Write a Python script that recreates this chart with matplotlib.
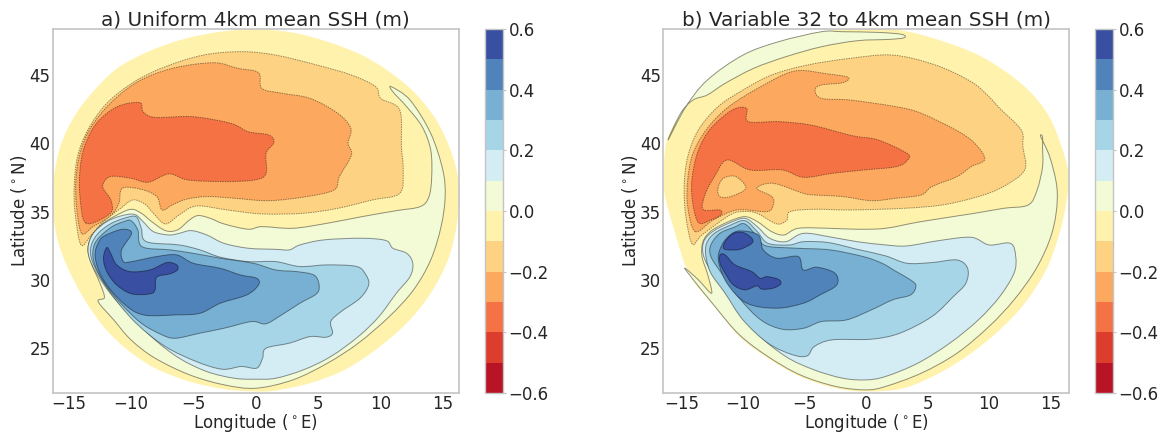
import numpy as np
import matplotlib
matplotlib.use("Agg")
from matplotlib import pyplot as plt
from matplotlib.colors import BoundaryNorm, ListedColormap
from matplotlib.cm import ScalarMappable
from matplotlib.path import Path
from matplotlib.patches import PathPatch

levels = np.arange(-0.6, 0.61, 0.1)
cbar_ticks = [-0.6, -0.4, -0.2, 0.0, 0.2, 0.4, 0.6]
lon_ticks = [-15, -10, -5, 0, 5, 10, 15]
lat_ticks = [25, 30, 35, 40, 45]

# ---- panel a, contour outlines (lon, lat)
a_domain = [(0,48.34),(2.97,48.1),(5.74,47.44),(8.5,46.46),(10.71,45.24),(12.65,43.78),(14.31,41.95),(15.41,40.0),(16.1,38.05),(16.33,36.34),(16.1,33.9),(15.41,31.46),(14.03,29.02),(12.1,26.83),(9.6,24.88),(7.12,23.41),(4.35,22.44),(1.59,21.9),(0,21.83),(-2.56,22.0),(-5.32,22.56),(-8.09,23.54),(-10.3,24.88),(-12.23,26.59),(-13.89,28.78),(-15.14,30.98),(-15.97,33.17),(-16.3,35.37),(-16.24,37.32),(-15.69,39.76),(-14.58,41.95),(-13.06,43.78),(-11.13,45.49),(-8.64,46.71),(-5.87,47.61),(-2.83,48.17)]
a_p00 = [(10.85,44.15),(12.37,43.17),(14.03,40.73),(15.0,38.05),(15.19,36.1),(14.86,33.9),(14.03,31.46),(12.65,29.27),(10.71,27.32),(8.22,25.37),(5.74,23.9),(2.97,22.68),(0,22.07),(-2.56,22.32),(-5.32,23.05),(-8.09,24.27),(-10.02,25.61),(-11.4,27.07),(-12.65,28.41),(-12.15,28.71),(-12.51,29.76),(-13.2,31.22),(-13.48,32.32),(-13.06,33.41),(-12.23,34.15),(-11.13,34.76),(-10.02,35.17),(-9.19,34.88),(-8.36,34.27),(-7.26,33.61),(-6.29,33.66),(-5.32,34.39),(-4.63,34.71),(-3.66,34.51),(-2.56,34.1),(-0.62,33.71),(0.48,33.9),(2.97,33.78),(5.74,34.15),(8.5,34.63),(11.27,35.07),(13.2,35.37),(13.89,36.1),(14.11,37.56),(14.03,39.51),(13.34,41.22),(12.1,42.68),(10.99,43.78)]
a_p01 = [(-5.18,33.61),(-3.94,33.29),(-2.56,32.68),(-0.62,32.32),(1.59,32.24),(2.7,32.2),(3.53,32.56),(5.46,32.93),(8.5,33.05),(10.44,32.88),(10.99,32.32),(12.1,31.95),(12.59,31.22),(12.37,30.24),(11.27,29.02),(9.88,27.32),(8.22,25.85),(6.01,24.39),(3.8,23.41),(1.59,22.8),(0,22.73),(-1.73,22.8),(-3.94,23.29),(-6.15,24.27),(-8.09,25.61),(-10.02,27.32),(-11.68,29.02),(-12.79,30.49),(-13.4,31.71),(-13.4,32.68),(-12.93,33.54),(-11.96,34.27),(-10.85,34.68),(-9.75,34.8),(-9.05,34.27),(-8.23,33.54),(-6.98,33.29),(-6.15,33.41)]
a_p02 = [(-9.61,34.63),(-9.19,33.78),(-8.78,32.8),(-6.15,32.56),(-4.49,32.2),(-2.83,31.66),(-0.62,31.34),(1.59,31.34),(3.53,30.98),(5.74,31.1),(8.09,30.98),(8.83,30.37),(9.05,29.63),(8.36,28.66),(6.84,27.68),(6.01,26.95),(6.15,26.1),(5.6,25.8),(4.35,25.85),(2.7,25.37),(0.82,25.0),(0.54,24.27),(0.07,23.54),(-1.17,23.66),(-2.7,23.46),(-4.77,24.02),(-7.26,25.12),(-9.47,26.71),(-11.13,28.41),(-12.51,30.24),(-13.2,31.59),(-13.2,32.56),(-12.65,33.41),(-11.68,34.1),(-10.58,34.51)]
a_p03 = [(-10.02,34.34),(-9.47,33.66),(-9.14,32.44),(-6.9,32.2),(-5.02,31.95),(-2.86,31.59),(-0.21,31.22),(1.59,30.73),(3.25,30.61),(4.63,30.37),(5.05,29.76),(4.91,29.02),(3.53,28.29),(1.87,27.32),(0.76,26.78),(-0.35,26.95),(-2.56,26.46),(-4.49,26.1),(-6.43,25.73),(-7.53,25.98),(-9.19,26.83),(-10.85,28.29),(-12.23,29.88),(-13.01,31.34),(-13.01,32.44),(-12.51,33.17),(-11.54,33.9),(-10.58,34.27)]
a_p04 = [(-10.63,33.71),(-9.97,33.41),(-10.77,32.2),(-10.63,31.34),(-9.97,31.34),(-7.95,31.71),(-6.35,31.83),(-5.02,31.22),(-2.86,30.85),(-1.26,30.37),(0.07,30.12),(0.21,29.63),(-0.73,28.9),(-2.86,28.29),(-4.47,27.56),(-6.35,27.44),(-9.03,27.44),(-10.63,28.29),(-12.23,30.0),(-12.9,31.71),(-12.51,32.93),(-11.71,33.41)]
a_p05 = [(-11.96,32.37),(-11.65,31.95),(-11.16,31.1),(-10.1,30.61),(-8.5,30.73),(-7.15,31.27),(-6.35,31.1),(-6.29,30.73),(-6.9,30.44),(-7.95,30.2),(-8.09,29.27),(-8.5,28.98),(-9.97,28.98),(-11.16,29.63),(-11.96,30.61),(-12.23,31.59)]
a_m01 = [(-14.03,32.56),(-14.5,34.88),(-14.58,36.83),(-14.31,39.02),(-13.48,40.98),(-11.96,42.93),(-9.75,44.51),(-7.26,45.61),(-4.22,46.46),(-1.17,46.71),(1.59,46.46),(4.91,45.73),(7.67,45.0),(9.61,44.15),(10.02,43.29),(11.54,42.44),(11.68,39.76),(11.82,38.05),(11.54,36.34),(9.33,35.85),(6.57,35.24),(3.8,34.88),(0.48,34.83),(-2.28,35.12),(-4.77,35.41),(-6.15,34.76),(-7.26,34.1),(-8.22,34.88),(-8.92,35.56),(-9.88,35.85),(-10.85,35.24),(-12.23,34.27),(-13.2,33.29)]
a_m02 = [(-13.98,33.41),(-14.39,35.37),(-14.44,37.32),(-14.11,39.27),(-13.28,41.1),(-11.68,42.93),(-9.47,44.51),(-6.7,45.49),(-3.39,45.9),(-1.45,45.49),(0.21,45.17),(0.48,44.02),(2.14,43.66),(4.35,43.29),(6.57,42.2),(7.62,41.1),(7.4,40.0),(7.67,39.15),(6.7,37.56),(6.29,36.59),(4.08,36.1),(1.04,35.8),(-1.73,35.98),(-3.94,36.1),(-5.6,35.9),(-6.7,35.49),(-7.53,35.12),(-7.95,36.1),(-9.19,36.63),(-10.71,36.71),(-10.99,35.61),(-11.68,34.68),(-13.06,33.9)]
a_m03 = [(-13.62,34.15),(-14.11,36.1),(-14.11,38.05),(-13.75,39.76),(-12.79,41.46),(-11.13,42.68),(-9.33,42.98),(-9.05,42.32),(-8.09,41.9),(-5.05,41.95),(-2.0,41.46),(-0.62,40.85),(1.04,40.61),(1.45,40.05),(0.82,39.27),(0.82,37.8),(-0.07,37.32),(-2.56,37.2),(-5.46,37.32),(-6.98,37.76),(-8.64,37.15),(-10.02,37.44),(-11.68,37.56),(-12.29,36.83),(-11.63,35.85),(-11.68,34.88)]

# ---- panel b
b_domain = [(0,48.41),(3.04,48.24),(5.94,47.56),(8.84,46.59),(11.16,45.37),(13.19,43.9),(14.64,42.32),(15.51,40.73),(16.23,38.78),(16.49,37.32),(16.23,35.37),(15.65,33.17),(14.64,30.73),(12.9,28.29),(10.87,26.34),(8.55,24.63),(5.94,23.17),(3.04,22.07),(0,21.83),(-2.46,22.07),(-5.36,22.93),(-7.97,24.27),(-10.29,25.85),(-12.32,28.05),(-14.35,30.37),(-15.51,33.41),(-16.38,36.34),(-16.43,38.29),(-16.09,40.49),(-14.64,42.68),(-12.9,44.63),(-10.0,46.46),(-7.1,47.44),(-3.62,48.17)]
b_p00 = [(14.2,40.49),(14.93,39.02),(15.51,36.83),(15.45,34.88),(14.93,32.93),(13.77,30.73),(12.03,28.54),(10.0,26.59),(7.39,24.63),(4.49,23.17),(1.59,22.2),(0,21.95),(-2.46,22.2),(-5.36,23.05),(-7.97,24.39),(-10.29,25.98),(-12.32,28.1),(-14.35,30.37),(-14.7,30.85),(-13.62,30.0),(-12.67,29.07),(-12.55,29.27),(-12.9,30.49),(-13.33,31.71),(-13.25,32.8),(-12.55,33.61),(-11.16,34.27),(-9.86,34.63),(-8.84,34.27),(-7.68,33.54),(-6.67,33.29),(-5.51,33.78),(-3.04,33.78),(-0.72,33.71),(1.59,33.78),(4.49,34.27),(8.84,34.88),(11.16,35.24),(13.19,35.49),(13.91,36.59),(14.35,38.29),(14.35,39.76),(14.35,40.49)]
b_p00_top = [(-16.09,40.24),(-15.07,42.2),(-14.06,43.17),(-12.9,43.54),(-11.45,44.39),(-9.13,45.49),(-6.52,46.34),(-3.62,47.07),(-0.72,47.51),(1.88,47.61),(3.1,47.73),(2.9,47.98),(1.01,48.12),(-1.88,48.17),(-3.62,48.17),(-7.1,47.44),(-10.0,46.46),(-12.9,44.63),(-14.64,42.68)]
b_p01 = [(-9.86,34.51),(-8.84,33.9),(-7.83,33.05),(-6.52,32.8),(-5.07,33.41),(-2.75,33.12),(-0.72,32.8),(1.59,32.56),(3.33,32.49),(5.94,32.88),(8.55,33.12),(10.0,32.56),(11.74,32.68),(12.17,31.71),(12.03,30.49),(10.87,28.78),(9.13,27.07),(6.81,25.37),(4.2,23.9),(1.59,22.93),(0,22.68),(-1.88,22.8),(-4.2,23.41),(-6.52,24.39),(-8.84,26.1),(-10.87,28.54),(-12.32,30.24),(-13.19,31.71),(-13.19,32.8),(-12.46,33.54),(-11.16,34.15)]
b_p02 = [(-9.86,34.34),(-8.84,33.54),(-7.97,32.68),(-6.23,32.56),(-5.07,32.8),(-3.04,32.73),(-0.72,32.24),(1.59,31.76),(3.33,31.22),(5.36,31.27),(7.39,31.46),(8.26,30.85),(8.12,29.76),(7.1,28.78),(5.36,27.32),(2.75,26.1),(0.43,25.66),(-2.75,25.61),(-4.2,25.12),(-4.78,24.44),(-5.94,24.51),(-7.97,25.37),(-10.0,27.07),(-11.45,29.02),(-12.61,30.49),(-13.01,31.71),(-12.96,32.68),(-12.32,33.41),(-11.16,33.95)]
b_p03 = [(-9.86,34.1),(-8.84,33.17),(-8.12,32.49),(-5.65,32.32),(-2.93,32.2),(-0.23,31.71),(1.3,31.22),(2.46,30.61),(3.62,30.0),(4.06,29.56),(3.62,28.9),(2.17,28.54),(0.43,27.8),(-1.59,27.07),(-3.62,26.95),(-5.07,26.46),(-6.81,26.39),(-8.55,27.07),(-10.29,28.66),(-11.74,30.49),(-12.61,31.71),(-12.61,32.56),(-11.88,33.41),(-10.72,33.85)]
b_p04 = [(-10.23,33.59),(-8.75,33.29),(-8.35,32.2),(-7.25,31.59),(-5.51,31.71),(-5.1,30.73),(-4.0,30.93),(-2.52,30.49),(-2.38,29.63),(-3.74,28.9),(-5.1,28.29),(-7.25,27.93),(-9.68,28.29),(-11.3,29.76),(-12.0,31.46),(-11.71,32.56),(-11.04,33.29)]
b_p05_north = [(-11.59,32.32),(-11.45,32.8),(-10.78,33.41),(-9.97,33.46),(-9.28,33.05),(-9.28,32.68),(-10.23,32.24),(-11.19,32.2)]
b_p05_south = [(-11.86,31.83),(-11.45,31.83),(-10.64,31.1),(-9.28,30.61),(-8.61,30.12),(-8.06,30.24),(-7.13,30.05),(-6.93,29.71),(-7.54,29.39),(-8.46,29.32),(-8.87,29.56),(-9.83,29.27),(-10.78,29.63),(-11.45,30.49),(-11.86,31.22)]
b_m01 = [(-14.12,32.63),(-14.64,34.63),(-14.78,36.83),(-14.49,39.02),(-13.62,40.98),(-12.03,42.68),(-10.0,43.9),(-7.68,45.0),(-4.78,45.73),(-1.3,46.22),(2.17,46.46),(5.65,45.73),(8.55,44.51),(10.0,43.41),(10.87,42.56),(12.61,40.98),(12.75,39.76),(12.9,38.05),(11.16,36.83),(9.13,36.1),(6.23,35.49),(3.04,35.24),(-1.3,35.12),(-4.2,35.17),(-6.17,35.0),(-6.43,34.39),(-7.25,34.1),(-8.87,34.88),(-9.97,35.0),(-11.04,34.76),(-13.33,33.29)]
b_m02 = [(-13.88,33.54),(-14.49,35.37),(-14.49,37.32),(-14.06,39.27),(-12.9,41.1),(-11.16,42.68),(-8.55,44.15),(-5.8,45.29),(-3.04,45.07),(-1.45,44.83),(-1.88,44.44),(-3.62,44.27),(-4.14,43.9),(-3.62,43.29),(-1.3,43.17),(2.46,42.68),(4.49,42.2),(7.39,40.93),(8.84,40.0),(9.65,38.83),(8.55,38.29),(7.39,37.56),(5.36,36.83),(4.49,36.22),(2.46,35.98),(0.43,35.8),(-1.88,36.1),(-4.2,36.22),(-5.1,36.34),(-7.54,37.07),(-8.87,36.71),(-7.65,36.1),(-7.54,35.49),(-8.06,35.0),(-10.49,35.12),(-12.41,34.39)]
b_m03 = [(-13.62,34.2),(-14.12,35.85),(-14.12,37.56),(-13.62,39.51),(-12.61,41.1),(-10.87,42.44),(-9.71,42.56),(-9.57,41.59),(-7.1,41.59),(-4.49,41.34),(-1.88,40.73),(-0.72,40.49),(1.01,40.24),(3.33,39.27),(3.39,38.78),(2.46,38.29),(-0.14,38.05),(-2.75,37.8),(-5.07,37.51),(-6.81,38.05),(-9.42,38.05),(-11.3,38.78),(-12.32,37.56),(-13.04,36.34),(-13.25,35.17),(-11.88,35.12),(-11.8,34.76),(-12.61,34.39)]
b_island = [(-12.03,36.71),(-11.59,37.44),(-10.58,37.56),(-9.77,36.71),(-11.01,36.1),(-11.88,36.1)]

# value in the middle of each band, then outline, in drawing order
shapes_a = [(-0.05, a_domain), (0.05, a_p00), (-0.15, a_m01), (-0.25, a_m02), (-0.35, a_m03),
            (0.15, a_p01), (0.25, a_p02), (0.35, a_p03), (0.45, a_p04), (0.55, a_p05)]
shapes_b = [(-0.05, b_domain), (0.05, b_p00), (0.05, b_p00_top), (-0.15, b_m01), (-0.25, b_m02),
            (-0.35, b_m03), (-0.15, b_island), (0.15, b_p01), (0.25, b_p02), (0.35, b_p03),
            (0.45, b_p04), (0.55, b_p05_north), (0.55, b_p05_south)]

mids = (levels[:-1] + levels[1:]) / 2
cmap = ListedColormap(plt.get_cmap("RdYlBu")((mids + 0.6) / 1.2))
norm = BoundaryNorm(levels, cmap.N)

W, H = 1160.0, 432.0
grey = "#c4c4c4"
ink = "#262626"
fs = 12


def outline(pts):
    # closed bezier through the read points, contours in the original are smooth
    p = np.array(pts, dtype=float)
    prev, nxt, nxt2 = np.roll(p, 1, axis=0), np.roll(p, -1, axis=0), np.roll(p, -2, axis=0)
    c1 = p + (nxt - prev) / 6
    c2 = nxt - (nxt2 - p) / 6
    verts = [p[0]]
    codes = [Path.MOVETO]
    for i in range(len(p)):
        verts += [c1[i], c2[i], nxt[i]]
        codes += [Path.CURVE4] * 3
    verts.append(p[0])
    codes.append(Path.CLOSEPOLY)
    return Path(verts, codes)


def panel(pos, cpos, shapes, xlim, ylim, title):
    ax = fig.add_axes([pos[0] / W, 1 - pos[3] / H, (pos[1] - pos[0]) / W, (pos[3] - pos[2]) / H])
    for i, (val, pts) in enumerate(shapes):
        if i == 0:
            ax.add_patch(PathPatch(outline(pts), facecolor=cmap(norm(val)), edgecolor="none"))
        else:
            ax.add_patch(PathPatch(outline(pts), facecolor=cmap(norm(val)), edgecolor=(0, 0, 0, 0.42), linewidth=0.7,
                                   linestyle=(0, (1.5, 1)) if val < 0 else "-"))
    ax.set_xlim(*xlim)
    ax.set_ylim(*ylim)
    ax.set_xticks(lon_ticks)
    ax.set_yticks(lat_ticks)
    ax.tick_params(labelsize=fs, length=0, pad=1.5, colors=ink)
    ax.set_xlabel(r"Longitude ($^\circ$E)", fontsize=fs, labelpad=-1, color=ink)
    ax.set_ylabel(r"Latitude ($^\circ$N)", fontsize=fs, labelpad=0, color=ink)
    ax.set_title(title, fontsize=14.4, pad=1, color=ink)
    for s in ax.spines.values():
        s.set_color(grey)
        s.set_linewidth(1.2)

    cax = fig.add_axes([cpos[0] / W, 1 - pos[3] / H, (cpos[1] - cpos[0]) / W, (pos[3] - pos[2]) / H])
    cb = fig.colorbar(ScalarMappable(norm=norm, cmap=cmap), cax=cax, ticks=cbar_ticks, spacing="proportional")
    cb.ax.minorticks_off()
    cb.ax.tick_params(labelsize=fs, length=2, width=0.8, pad=2, color=grey, labelcolor=ink)
    cb.outline.set_edgecolor(grey)
    cb.outline.set_linewidth(1.0)


fig = plt.figure(figsize=(11.6, 4.32), dpi=100)
panel((52.7, 459, 29, 393), (484.5, 503), shapes_a, (-16.3, 16.3), (21.72, 48.37), "a) Uniform 4km mean SSH (m)")
panel((663, 1069, 29, 393), (1095, 1113), shapes_b, (-16.5, 16.5), (21.72, 48.37), "b) Variable 32 to 4km mean SSH (m)")
fig.savefig("out.png", dpi=100)
